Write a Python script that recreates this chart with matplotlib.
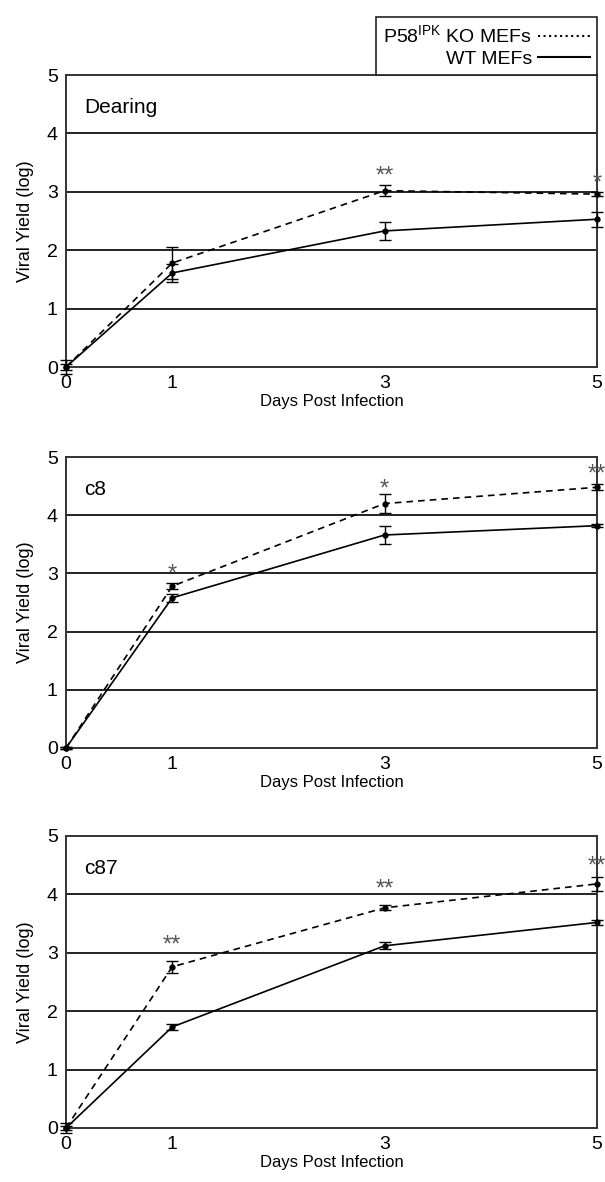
"""Viral yield time course, three virus strains, KO vs WT MEFs."""
import matplotlib
matplotlib.use("Agg")
import matplotlib.pyplot as plt
from matplotlib.lines import Line2D

plt.rcParams.update({"font.family": ["Liberation Sans", "DejaVu Sans"], "font.size": 11})

days = [0, 1, 3, 5]
strains = ["Dearing", "c8", "c87"]

ko_mean = {
    "Dearing": [0.0, 1.78, 3.02, 2.96],
    "c8": [0.0, 2.78, 4.20, 4.48],
    "c87": [0.0, 2.76, 3.77, 4.18],
}
ko_err = {
    "Dearing": [0.12, 0.28, 0.10, 0.04],
    "c8": [0.02, 0.05, 0.17, 0.05],
    "c87": [0.08, 0.10, 0.04, 0.12],
}
wt_mean = {
    "Dearing": [0.0, 1.61, 2.33, 2.53],
    "c8": [0.0, 2.58, 3.66, 3.82],
    "c87": [0.0, 1.73, 3.12, 3.52],
}
wt_err = {
    "Dearing": [0.05, 0.15, 0.15, 0.13],
    "c8": [0.02, 0.07, 0.16, 0.03],
    "c87": [0.03, 0.05, 0.06, 0.05],
}
# significance marks: (day, label, y)
stars = {
    "Dearing": [(3, "**", 3.26), (5, "*", 3.14)],
    "c8": [(1, "*", 2.98), (3, "*", 4.44), (5, "**", 4.70)],
    "c87": [(1, "**", 3.12), (3, "**", 4.08), (5, "**", 4.48)],
}

ko_label = "P58$^{\\mathregular{IPK}}$ KO MEFs"
wt_label = "WT MEFs"

W, H = 605, 1182
fig = plt.figure(figsize=(W / 100, H / 100), dpi=100)
tops = [75, 457, 836]
bottoms = [367, 748, 1128]
left, right = 66, 597

axes = []
for name, t, b in zip(strains, tops, bottoms):
    ax = fig.add_axes([left / W, 1 - b / H, (right - left) / W, (b - t) / H])
    axes.append(ax)
    for yy in [1, 2, 3, 4]:
        ax.axhline(yy, color="#222222", lw=1.4, zorder=1)
    ax.errorbar(days, ko_mean[name], yerr=ko_err[name], color="black", ls=(0, (4, 3)),
                lw=1.2, marker="o", ms=3.5, capsize=4, elinewidth=1.0, clip_on=False, zorder=3)
    ax.errorbar(days, wt_mean[name], yerr=wt_err[name], color="black", ls="-",
                lw=1.2, marker="o", ms=3.5, capsize=4, elinewidth=1.0, clip_on=False, zorder=3)
    for d, s, yy in stars[name]:
        ax.text(d, yy, s, ha="center", va="center", color="#555555", fontsize=17, clip_on=False)
    ax.text(0.035, 0.89, name, transform=ax.transAxes, fontsize=15, va="center")
    ax.set_xlim(0, 5)
    ax.set_ylim(0, 5)
    ax.set_xticks(days)
    ax.set_yticks([0, 1, 2, 3, 4, 5])
    ax.tick_params(length=0, pad=6, labelsize=14)
    ax.set_xlabel("Days Post Infection", fontsize=12, labelpad=1)
    ax.set_ylabel("Viral Yield (log)", fontsize=13, labelpad=9)
    for sp in ax.spines.values():
        sp.set_color("#333333")
        sp.set_linewidth(1.4)

handles = [Line2D([], [], color="black", ls=":", lw=1.5),
           Line2D([], [], color="black", ls="-", lw=1.5)]
leg = axes[0].legend(handles, [ko_label, wt_label], loc="lower right", bbox_to_anchor=(1, 1),
                     markerfirst=False, fancybox=False, borderaxespad=0, fontsize=14,
                     handlelength=2.7, handletextpad=0.3, labelspacing=0.2,
                     borderpad=0.35, framealpha=1)
leg.get_frame().set_edgecolor("#222222")
leg.get_frame().set_linewidth(1.2)

fig.savefig("out.png", dpi=100)
